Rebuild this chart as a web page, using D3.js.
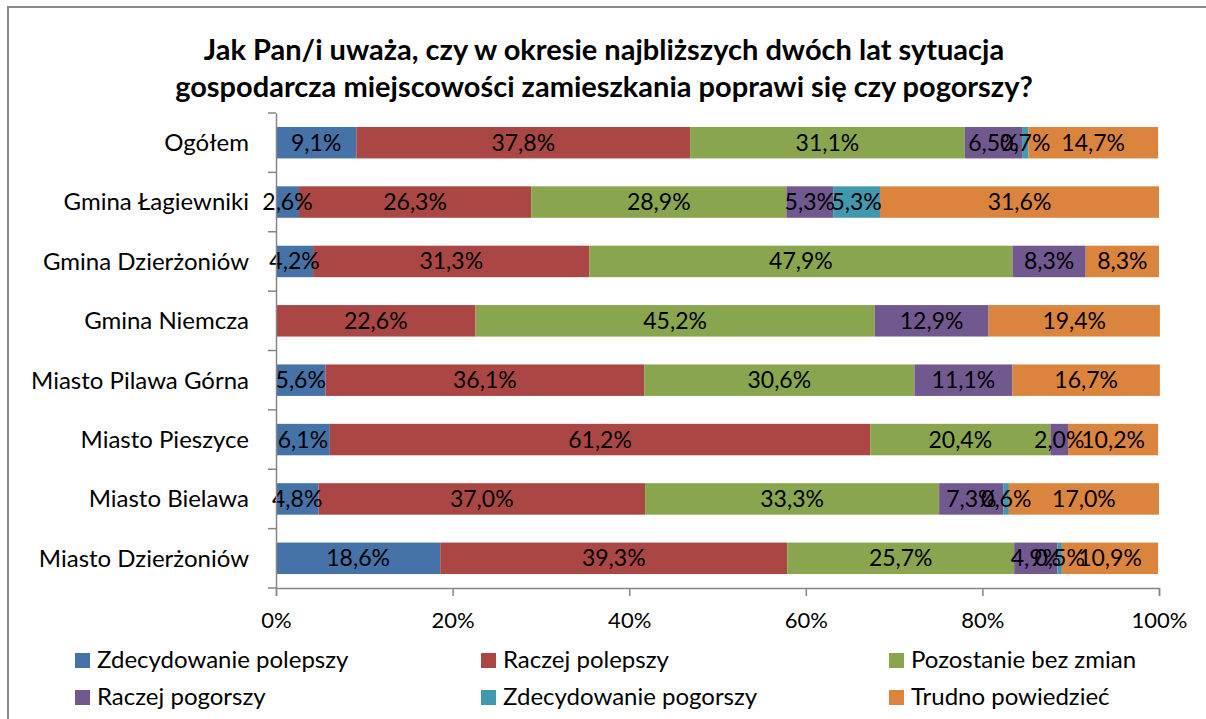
<!DOCTYPE html>
<html lang="pl">
<head>
<meta charset="utf-8">
<title>Sytuacja gospodarcza</title>
<script src="https://d3js.org/d3.v7.min.js"></script>
<style>
  body { margin: 0; background: #fff; }
  svg text { font-family: Lato, "Noto Sans", sans-serif; }
</style>
</head>
<body>
<script>
// categories, top to bottom
const categories = ["Ogółem", "Gmina Łagiewniki", "Gmina Dzierżoniów", "Gmina Niemcza",
  "Miasto Pilawa Górna", "Miasto Pieszyce", "Miasto Bielawa", "Miasto Dzierżoniów"];
const seriesNames = ["Zdecydowanie polepszy", "Raczej polepszy", "Pozostanie bez zmian",
  "Raczej pogorszy", "Zdecydowanie pogorszy", "Trudno powiedzieć"];
const zdecPolepszy = [9.1, 2.6, 4.2, 0, 5.6, 6.1, 4.8, 18.6];
const raczejPolepszy = [37.8, 26.3, 31.3, 22.6, 36.1, 61.2, 37.0, 39.3];
const bezZmian = [31.1, 28.9, 47.9, 45.2, 30.6, 20.4, 33.3, 25.7];
const raczejPogorszy = [6.5, 5.3, 8.3, 12.9, 11.1, 2.0, 7.3, 4.9];
const zdecPogorszy = [0.7, 5.3, 0, 0, 0, 0, 0.6, 0.5];
const trudno = [14.7, 31.6, 8.3, 19.4, 16.7, 10.2, 17.0, 10.9];
const xTicks = [0, 20, 40, 60, 80, 100];
const colors = ["#4572A7", "#AA4643", "#89A54E", "#71588F", "#4198AF", "#DB843D"];

const series = [zdecPolepszy, raczejPolepszy, bezZmian, raczejPogorszy, zdecPogorszy, trudno];

const width = 1206, height = 719;
const svg = d3.select("body").append("svg")
  .attr("width", width).attr("height", height);

// chart frame
svg.append("rect")
  .attr("x", 8).attr("y", 7)
  .attr("width", 1210).attr("height", 730)
  .attr("fill", "none").attr("stroke", "#888").attr("stroke-width", 2);

// title
const title = svg.append("text")
  .attr("text-anchor", "middle")
  .attr("font-size", 29).attr("font-weight", "bold");
title.append("tspan").attr("x", 604).attr("y", 60)
  .text("Jak Pan/i uważa, czy w okresie najbliższych dwóch lat sytuacja");
title.append("tspan").attr("x", 604).attr("y", 97)
  .text("gospodarcza miejscowości zamieszkania poprawi się czy pogorszy?");

const x = d3.scaleLinear().domain([0, 100]).range([276, 1159]);
const y = d3.scaleBand().domain(categories).range([113, 588]).paddingInner(0.47).paddingOuter(0.235);

// stacked data
const rows = categories.map((c, i) => {
  let acc = 0;
  return series.map((s, k) => {
    const v = s[i];
    const seg = { cat: c, k: k, v: v, x0: acc, x1: acc + v };
    acc += v;
    return seg;
  });
});

const bars = svg.append("g");
rows.forEach(r => {
  bars.selectAll(null)
    .data(r.filter(d => d.v > 0))
    .join("rect")
    .attr("x", d => x(d.x0))
    .attr("y", d => y(d.cat))
    .attr("width", d => x(d.x1) - x(d.x0))
    .attr("height", y.bandwidth())
    .attr("fill", d => colors[d.k]);
});

// labels
const labels = svg.append("g");
rows.forEach(r => {
  labels.selectAll(null)
    .data(r.filter(d => d.v > 0))
    .join("text")
    .attr("x", d => (x(d.x0) + x(d.x1)) / 2)
    .attr("y", d => y(d.cat) + y.bandwidth() / 2 + 8)
    .attr("text-anchor", "middle")
    .attr("font-size", 23)
    .attr("fill", "#000")
    .text(d => d.v.toFixed(1).replace(".", ",") + "%");
});

// y axis
const yAxis = svg.append("g")
  .attr("transform", "translate(276,0)")
  .call(d3.axisLeft(y).tickSize(0).tickPadding(27));
yAxis.select(".domain").attr("stroke", "#868686").attr("stroke-width", 1.5);
yAxis.selectAll("text").attr("font-size", 24).attr("fill", "#000").attr("dy", "0.35em");
// category separators
const seps = d3.range(categories.length + 1).map(i => 113 + i * (475 / categories.length));
yAxis.selectAll(".sep").data(seps).join("line")
  .attr("x1", -8).attr("x2", 0)
  .attr("y1", d => d).attr("y2", d => d)
  .attr("stroke", "#868686").attr("stroke-width", 1.5);

// x axis
const xAxis = svg.append("g")
  .attr("transform", "translate(0,588)")
  .call(d3.axisBottom(x).tickValues(xTicks).tickSize(8).tickPadding(16)
    .tickFormat(d => d + "%"));
xAxis.select(".domain").attr("stroke", "#868686").attr("stroke-width", 1.5);
xAxis.selectAll(".tick line").attr("stroke", "#868686").attr("stroke-width", 1.5);
xAxis.selectAll("text").attr("font-size", 22).attr("fill", "#000");

// legend
const legX = [75, 481, 889], legY = [660, 697];
const legend = svg.append("g");
seriesNames.forEach((n, i) => {
  const lx = legX[i % 3], ly = legY[Math.floor(i / 3)];
  legend.append("rect")
    .attr("x", lx).attr("y", ly - 7).attr("width", 15).attr("height", 15)
    .attr("fill", colors[i]);
  legend.append("text")
    .attr("x", lx + 22).attr("y", ly + 8)
    .attr("font-size", 24).attr("fill", "#000")
    .text(n);
});
</script>
</body>
</html>
